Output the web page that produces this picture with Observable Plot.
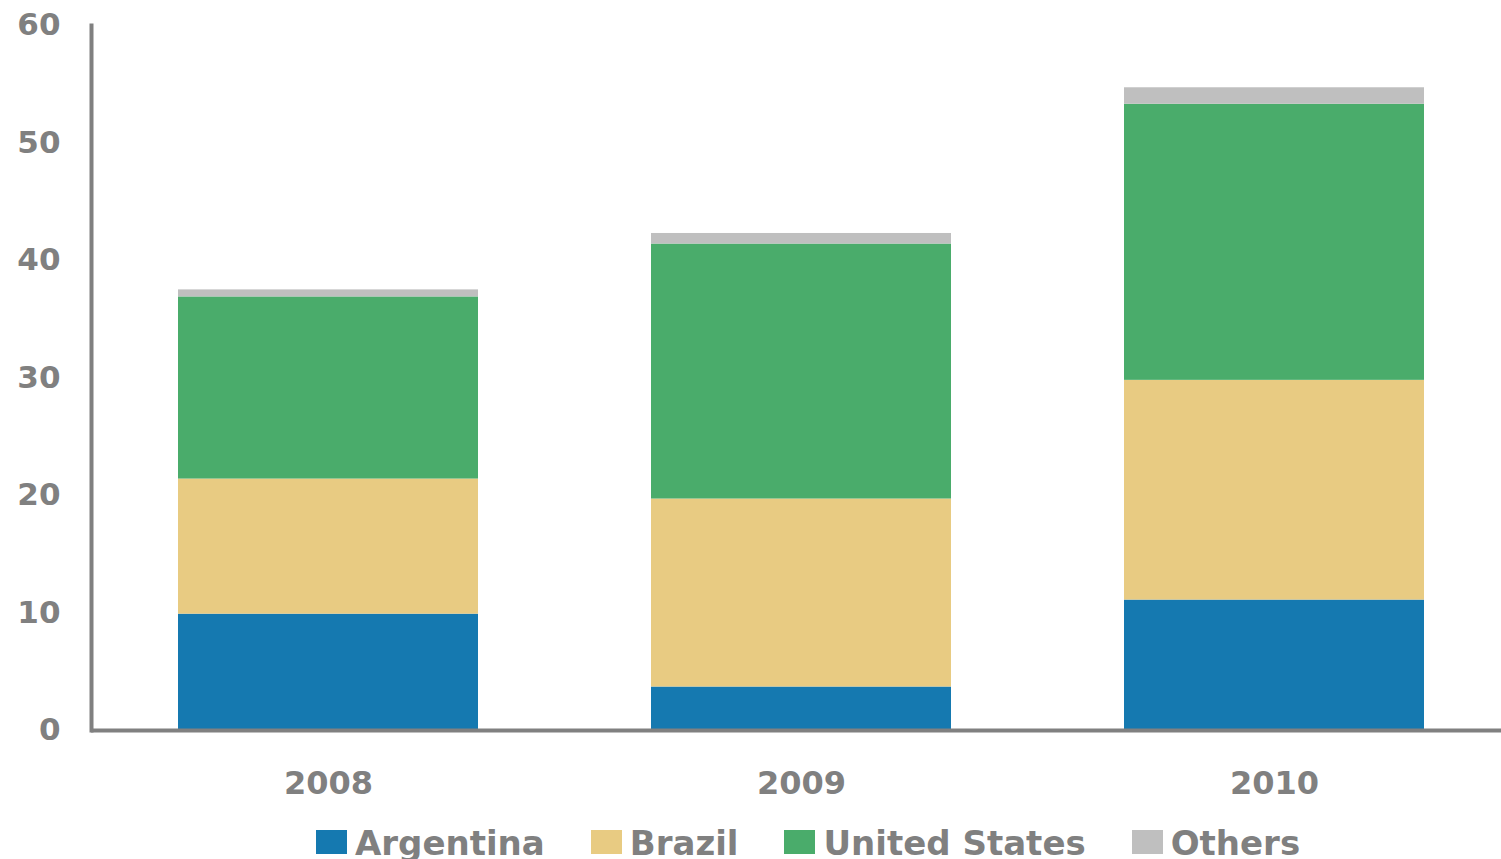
<!DOCTYPE html>
<html>
<head>
<meta charset="utf-8">
<script src="https://cdn.jsdelivr.net/npm/d3@7"></script>
<script src="https://cdn.jsdelivr.net/npm/@observablehq/plot@0.6"></script>
<style>
  html, body { margin: 0; padding: 0; background: #fff; overflow: hidden; }
  #legend { display: flex; align-items: flex-start; padding-left: 316px; padding-top: 14px;
    font-family: "DejaVu Sans", sans-serif; font-weight: bold; font-size: 34px; color: #808080; line-height: 1; }
  .item { display: flex; align-items: flex-start; margin-right: 46px; }
  .sw { width: 31px; height: 24px; margin-right: 8px; margin-top: 4px; }
</style>
</head>
<body>
<div id="chart"></div>
<div id="legend"></div>
<script>
const years = ["2008", "2009", "2010"];
const series = ["Argentina", "Brazil", "United States", "Others"];
const argentina = [9.9, 3.7, 11.1];
const brazil = [11.5, 16.0, 18.7];
const unitedStates = [15.5, 21.7, 23.5];
const others = [0.6, 0.9, 1.4];
const colors = ["#1579b0", "#e8cb82", "#4aac6b", "#bfbfbf"];
const yTicks = [0, 10, 20, 30, 40, 50, 60];

const valuesBySeries = [argentina, brazil, unitedStates, others];
const data = [];
series.forEach((s, i) => years.forEach((y, j) => data.push({year: y, series: s, value: valuesBySeries[i][j]})));

const chart = Plot.plot({
  width: 1501,
  height: 812,
  marginLeft: 91,
  marginRight: 0,
  marginTop: 25,
  marginBottom: 82,
  style: {fontFamily: "DejaVu Sans, sans-serif", fontWeight: "bold", fontSize: "31px", color: "#808080", background: "#fff"},
  x: {domain: years, paddingInner: 0.365, paddingOuter: 0.17, align: 0.53, label: null},
  y: {domain: [0, 60], label: null},
  color: {domain: series, range: colors},
  marks: [
    Plot.barY(data, {x: "year", y: "value", fill: "series", order: series}),
    Plot.axisY({ticks: yTicks, tickSize: 0, tickPadding: 31, fontSize: 31, fontWeight: "bold", label: null}),
    Plot.axisX({tickSize: 0, tickPadding: 41, fontSize: 32, fontWeight: "bold", label: null}),
    Plot.frame({anchor: "left", stroke: "#808080", strokeWidth: 4}),
    Plot.ruleY([0], {stroke: "#808080", strokeWidth: 4})
  ]
});
document.getElementById("chart").appendChild(chart);

const legend = d3.select("#legend");
series.forEach((s, i) => {
  const item = legend.append("div").attr("class", "item");
  item.append("div").attr("class", "sw").style("background", colors[i]);
  item.append("span").text(s);
});
</script>
</body>
</html>
